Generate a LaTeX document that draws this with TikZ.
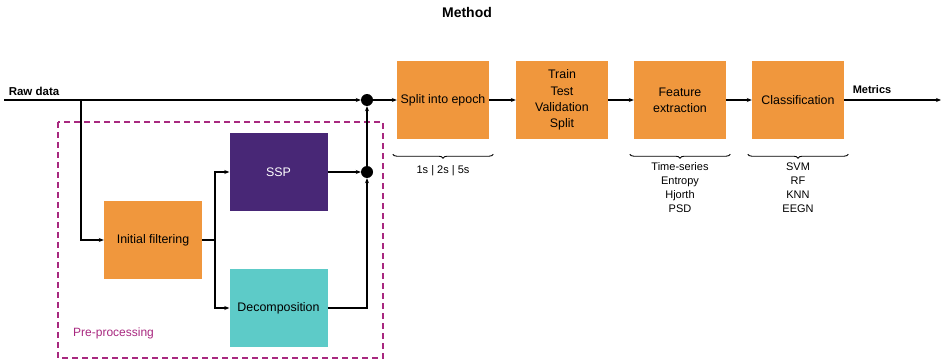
\documentclass[tikz,border=0pt]{standalone}
\usepackage{fontspec}
\setmainfont{Liberation Sans}
\usetikzlibrary{arrows.meta,decorations.pathreplacing}

\definecolor{boxorange}{HTML}{F0973D}
\definecolor{ssppurple}{HTML}{482776}
\definecolor{decteal}{HTML}{5DCBC8}
\definecolor{premagenta}{HTML}{A8287F}

\begin{document}
\begin{tikzpicture}[x=1pt,y=-1pt,
    block/.style={minimum width=98pt,minimum height=78pt,inner sep=0pt,align=center,
        fill=boxorange,font=\fontsize{12.4}{16.3}\selectfont},
    stage/.style={block,minimum width=92pt},
    flow/.style={line width=1.1pt,-{Stealth[length=5pt,width=4pt]}},
    plain/.style={line width=1.1pt},
    junction/.style={circle,fill=black,inner sep=0pt,minimum size=12pt},
    curly/.style={line width=0.9pt,decorate,decoration={brace,mirror,amplitude=4pt}},
    note/.style={font=\fontsize{11}{14}\selectfont,align=center,inner sep=0pt}]
    \useasboundingbox (0,0) rectangle (943,361);

    \node [at={(467,12)},font=\fontsize{14}{16}\selectfont\bfseries] (title) {Method};

    % Pre-processing
    \draw[premagenta,line width=1.1pt,dash pattern=on 6pt off 4pt] (58,122) rectangle (383,358);
    \node [at={(73,333)},anchor=west,text=premagenta,font=\fontsize{12}{14}\selectfont,inner sep=0pt] (prelabel) {Pre-processing};

    \node [block,at={(153,240)}] (filter) {Initial filtering};
    \node [block,at={(278.5,172)},fill=ssppurple,text=white] (ssp) {SSP};
    \node [block,at={(278.5,308)},fill=decteal] (decomp) {Decomposition};

    % Main line
    \node [stage,at={(443,100)}] (split) {Split into epoch};
    \node [stage,at={(562,100)}] (tts) {Train\\Test\\Validation\\Split};
    \node [stage,at={(680,100)}] (feat) {Feature\\extraction};
    \node [stage,at={(798,100)}] (classif) {Classification};

    \node [junction,at={(367,100)}] (j1) {};
    \node [junction,at={(367,172)}] (j2) {};

    \coordinate (rawin) at (4,100);
    \coordinate (tap) at (81,100);
    \coordinate (fork) at (215,240);
    \coordinate (out) at (941,100);

    \node [at={(34,91)},font=\fontsize{11.5}{14}\selectfont\bfseries,inner sep=0pt] (rawlabel) {Raw data};
    \node [at={(872,90)},font=\fontsize{11}{14}\selectfont\bfseries,inner sep=0pt] (metlabel) {Metrics};

    \draw[flow] (rawin) -- (j1);
    \draw[flow] (j1) -- (split);
    \draw[flow] (tap) |- (filter);
    \draw[plain] (filter) -- (fork);
    \draw[flow] (fork) |- (ssp);
    \draw[flow] (fork) |- (decomp);
    \draw[flow] (ssp) -- (j2);
    \draw[flow] (decomp) -| (j2);
    \draw[flow] (j2) -- (j1);
    \draw[flow] (split) -- (tts);
    \draw[flow] (tts) -- (feat);
    \draw[flow] (feat) -- (classif);
    \draw[flow] (classif) -- (out);

    % Options
    \draw[curly] ([xshift=-4pt,yshift=-15pt]split.south west) -- ([xshift=4pt,yshift=-15pt]split.south east)
        node [note,midway,below=11pt] (epochs) {1s | 2s | 5s};
    \draw[curly] ([xshift=-4pt,yshift=-15pt]feat.south west) -- ([xshift=4pt,yshift=-15pt]feat.south east)
        node [note,midway,below=8pt] (features) {Time-series\\Entropy\\Hjorth\\PSD};
    \draw[curly] ([xshift=-4pt,yshift=-15pt]classif.south west) -- ([xshift=4pt,yshift=-15pt]classif.south east)
        node [note,midway,below=8pt] (models) {SVM\\RF\\KNN\\EEGN};
\end{tikzpicture}
\end{document}
